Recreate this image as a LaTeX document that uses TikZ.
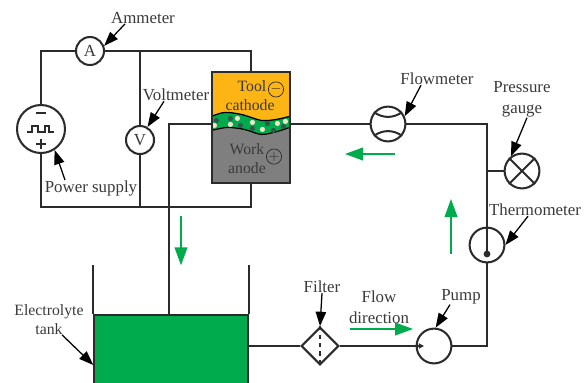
\documentclass[tikz,border=0pt]{standalone}
\usepackage{xcolor}
\usepackage{fontspec}
\setmainfont{Liberation Serif}
\usetikzlibrary{positioning,calc,arrows.meta,shapes.geometric,backgrounds}

\definecolor{wirec}{HTML}{2B2B2B}
\definecolor{textc}{HTML}{3A3A3A}
\definecolor{toolc}{HTML}{FDB515}
\definecolor{workc}{HTML}{7F7F7F}
\definecolor{flowc}{HTML}{00AB4E}
\definecolor{beadc}{HTML}{F2E6C8}
\definecolor{darkbeadc}{HTML}{2F5A4A}

\tikzset{
  wire/.style={draw=wirec, line width=1.45pt},
  meter/.style={circle, draw=wirec, line width=1.45pt, fill=white, minimum size=0.7cm, inner sep=0pt, text=textc, font=\fontsize{12}{15}\selectfont},
  bigmeter/.style={meter, minimum size=0.87cm},
  txt/.style={text=textc, align=center, inner sep=0pt, font=\fontsize{12}{15}\selectfont},
  smalltxt/.style={txt, font=\fontsize{11.2}{13.5}\selectfont},
  pointer/.style={draw=black, line width=0.9pt, -{Triangle[length=0.36cm,width=0.26cm]}},
  flowarrow/.style={draw=flowc, line width=1pt, -{Triangle[length=0.45cm,width=0.32cm]}},
  sign/.style={circle, draw=wirec, line width=0.5pt, minimum size=0.38cm, inner sep=0pt, text=wirec},
}

\begin{document}
\begin{tikzpicture}[on grid]
    \useasboundingbox (0,0) rectangle (14.675,-9.55);

      \node[meter] (amm) at (2.25,-1.275) {A};
      \node[meter, below right = 2.225cm and 1.25cm of amm] (vm) {V};
      \node[meter, minimum size=1.2cm, below left = 1.95cm and 1.225cm of amm] (ps) {};

      \node[txt, above right = 0.825cm and 1.325cm of amm] (lamm) {Ammeter};
      \node[txt, above right = 1.125cm and 0.9cm of vm] (lvm) {Voltmeter};
      \node[txt, below right = 1.475cm and 1.25cm of ps] (lps) {Power supply};

      \node[draw=wirec, line width=0.8pt, minimum width=1.95cm, minimum height=2.775cm,
        above right = 0.3125cm and 2.775cm of vm] (cell) {};

      \node[rectangle, draw=wirec, line width=1pt, fill=flowc, minimum width=3.85cm, minimum height=1.875cm,
        below left = 5.625cm and 2cm of cell] (tank) {};
      \node[diamond, draw=wirec, line width=1.45pt, fill=white, minimum size=0.94cm, inner sep=0pt,
        above right = 0.1625cm and 3.725cm of tank] (filter) {};
      \node[bigmeter, right = 2.85cm of filter] (pump) {};
      \node[bigmeter, above right = 2.525cm and 1.325cm of pump] (therm) {};
      \node[bigmeter, above right = 1.85cm and 0.875cm of therm] (gauge) {};
      \node[bigmeter, above right = 0.0875cm and 3.425cm of cell] (flow) {};

      \node[txt, above right = 1.125cm and 1.225cm of flow] (lflow) {Flowmeter};
      \node[txt, above = 1.7875cm of gauge] (lgauge) {Pressure\\gauge};
      \node[txt, above right = 0.875cm and 1.2cm of therm] (ltherm) {Thermometer};
      \node[txt, above right = 1.475cm and 0.05cm of filter] (lfilter) {Filter};
      \node[txt, above right = 0.9625cm and 1.475cm of filter] (lfd) {Flow\\direction};
      \node[txt, above right = 1.225cm and 0.675cm of pump] (lpump) {Pump};
      \node[smalltxt, above left = 0.825cm and 3.05cm of tank] (ltank) {Electrolyte\\tank};

      \node[smalltxt] (ltool) at ($(cell.north) + (0.025,-0.375)$) {Tool};
      \node[smalltxt] (lcath) at ($(cell.north) + (-0.025,-0.85)$) {cathode};
      \node[smalltxt] (lwork) at ($(cell.south) + (-0.1,0.85)$) {Work};
      \node[smalltxt] (lanod) at ($(cell.south) + (-0.1,0.375)$) {anode};
      \node[sign] (minus) at ($(cell.north) + (0.625,-0.45)$) {$-$};
      \node[sign] (plus) at ($(cell.south) + (0.575,0.675)$) {$+$};

      \coordinate[below = 1.95cm of ps] (bl);
      \coordinate (vt) at (vm |- amm);
      \coordinate (vb) at (vm |- bl);
      \coordinate (br) at (cell |- bl);
      \coordinate (inl) at ($(cell.west) + (0,0.0875)$);
      \coordinate (inr) at ($(cell.east) + (0,0.0875)$);
      \coordinate (drop) at ($(tank.north) + (-0.05,0)$);
      \coordinate (corner) at (therm |- flow);
      \coordinate (rc) at (therm |- pump);
      \coordinate (stub) at (therm |- gauge);
      \coordinate (pin) at ($(pump.center) + (-0.25,0)$);
      \coordinate (twl) at ($(tank.north west) + (0,1.225)$);
      \coordinate (twr) at ($(tank.north east) + (0,1.225)$);
      \coordinate (bulb) at ($(therm.center) + (0,-0.225)$);

      \begin{scope}[on background layer, shift={(cell.north west)}, x=0.025cm, y=-0.025cm]
        \fill[workc] (0,0) rectangle (78,111);
        \fill[toolc] (0,0) -- (78,0) -- plot[smooth] coordinates {(78,45) (65,48) (50,49) (30,43) (13,41) (0,45)} -- cycle;
        \fill[flowc] plot[smooth] coordinates {(0,45) (13,41) (30,43) (50,49) (65,48) (78,45)}
          -- plot[smooth] coordinates {(78,56) (66,60) (50,63) (33,58) (16,56) (0,59)} -- cycle;
        \draw[black, line width=0.9pt] plot[smooth] coordinates {(0,45) (13,41) (30,43) (50,49) (65,48) (78,45)};
        \draw[black, line width=0.9pt] plot[smooth] coordinates {(0,59) (16,56) (33,58) (50,63) (66,60) (78,56)};
        \foreach \x/\y in {26/47, 41/51, 3/54, 19/53, 51/58, 66/52, 74/50}
          \fill[beadc] (\x,\y) circle (2.6);
        \foreach \x/\y in {19/47, 5/49, 29/54, 56/52, 41/57, 62/59, 72/55}
          \fill[darkbeadc] (\x,\y) circle (2.6);
      \end{scope}

      \draw[wire] (ps) |- (amm);
      \draw[wire] (amm) -| (cell);
      \draw[wire] (vt) -- (vm);
      \draw[wire] (vm) -- (vb);
      \draw[wire] (ps) -- (bl) -- (br) -- (cell);

      \draw[wire] (inl) -| (drop);
      \draw[wire] (inr) -- (flow);
      \draw[wire] (flow) -- (corner) -- (therm);
      \draw[wire] (stub) -- (gauge);
      \draw[wire] (therm) -- (rc) -- (pump);
      \draw[wire] (filter) -- (filter -| tank.east);
      \draw[wire, -{Triangle[length=0.13cm,width=0.13cm]}] (filter) -- (pin);
      \draw[wire] (tank.north west) -- (twl);
      \draw[wire] (tank.north east) -- (twr);

      \draw[wire] (flow.140) to[bend right=35] (flow.40);
      \draw[wire] (flow.220) to[bend left=35] (flow.320);
      \draw[wire] (gauge.45) -- (gauge.225);
      \draw[wire] (gauge.135) -- (gauge.315);
      \draw[wire, dashed, line width=1pt] (filter.north) -- (filter.south);
      \draw[wire, line width=1pt] (therm.north) -- (bulb);
      \fill[wirec] (bulb) circle (0.085);

      \begin{scope}[shift={(ps.center)}, x=0.025cm, y=-0.025cm]
        \draw[wire, line width=1pt] (-14,3) -- (-9,3) -- (-9,-3) -- (-3,-3) -- (-3,3) -- (4,3) -- (4,-3) -- (8,-3) -- (8,3) -- (13,3);
        \draw[wire] (-5,-16) -- (5,-16);
        \draw[wire] (-5,15) -- (5,15);
        \draw[wire] (0,10) -- (0,20);
      \end{scope}

      \draw[pointer] ([xshift=-0.45cm]lamm.south) -- (amm.20);
      \draw[pointer] ([xshift=-0.3cm]lvm.south) -- (vm.60);
      \draw[pointer] ([xshift=-0.65cm]lps.north) -- (ps.-57);
      \draw[pointer] ([xshift=-0.4cm]lflow.south) -- (flow.25);
      \draw[pointer] ([xshift=0.125cm]lgauge.south) -- (gauge.127);
      \draw[pointer] ([xshift=-0.175cm]ltherm.south) -- (therm.east);
      \draw[pointer] (lfilter.south) -- (filter.north);
      \draw[pointer] ([xshift=-0.275cm]lpump.south) -- (pump.85);
      \draw[pointer] ([xshift=0.325cm]ltank.south) -- ([yshift=-0.3125cm]tank.west);

      \coordinate (fa1) at ($(tank.north) + (0.25,2.45)$);
      \coordinate (fa2) at ($(tank.north) + (0.25,1.225)$);
      \coordinate (fb1) at ($(flow.center) + (0.175,-0.75)$);
      \coordinate (fb2) at ($(flow.center) + (-1.075,-0.75)$);
      \coordinate (fc1) at ($(therm.center) + (-0.9,-0.225)$);
      \coordinate (fc2) at ($(therm.center) + (-0.9,1.15)$);
      \coordinate (fd1) at ($(filter.center) + (0.75,0.425)$);
      \coordinate (fd2) at ($(filter.center) + (2.325,0.425)$);
      \draw[flowarrow] (fa1) -- (fa2);
      \draw[flowarrow] (fb1) -- (fb2);
      \draw[flowarrow] (fc1) -- (fc2);
      \draw[flowarrow] (fd1) -- (fd2);
  \end{tikzpicture}
\end{document}
